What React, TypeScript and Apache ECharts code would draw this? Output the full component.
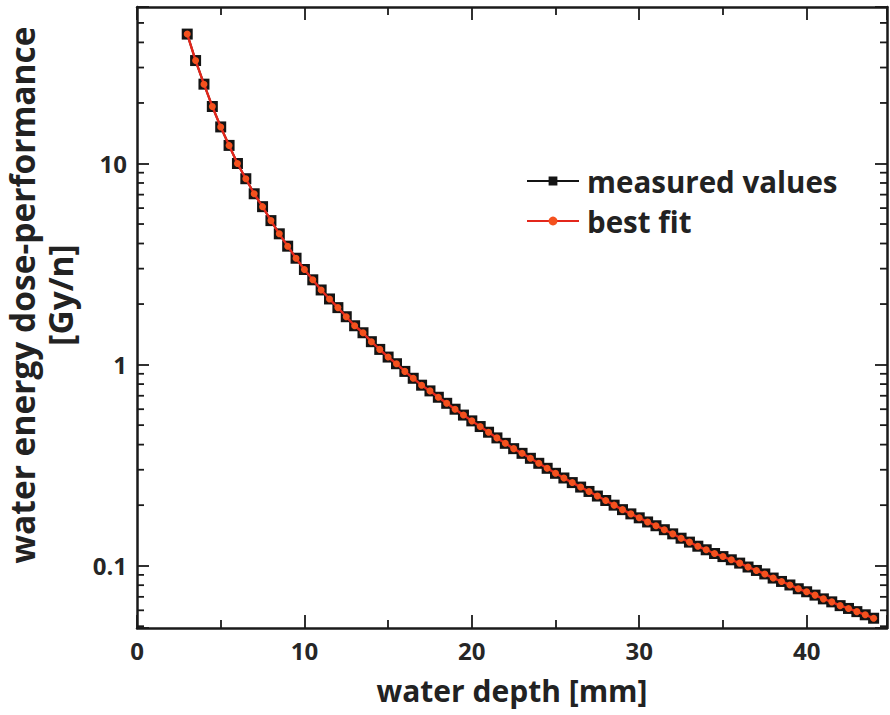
import React, { useEffect, useRef } from "react";
import * as echarts from "echarts";

const depthMm = [
  3.0, 3.5, 4.0, 4.5, 5.0, 5.5, 6.0, 6.5, 7.0, 7.5, 8.0, 8.5, 9.0, 9.5, 10.0, 10.5, 11.0, 11.5,
  12.0, 12.5, 13.0, 13.5, 14.0, 14.5, 15.0, 15.5, 16.0, 16.5, 17.0, 17.5, 18.0, 18.5, 19.0, 19.5,
  20.0, 20.5, 21.0, 21.5, 22.0, 22.5, 23.0, 23.5, 24.0, 24.5, 25.0, 25.5, 26.0, 26.5, 27.0, 27.5,
  28.0, 28.5, 29.0, 29.5, 30.0, 30.5, 31.0, 31.5, 32.0, 32.5, 33.0, 33.5, 34.0, 34.5, 35.0, 35.5,
  36.0, 36.5, 37.0, 37.5, 38.0, 38.5, 39.0, 39.5, 40.0, 40.5, 41.0, 41.5, 42.0, 42.5, 43.0, 43.5,
  44.0,
];

const measuredValues = [
  44.0, 32.5, 24.8, 19.2, 15.2, 12.3, 10.0, 8.4, 7.07, 6.1, 5.2, 4.47, 3.88, 3.38, 2.97, 2.64, 2.35, 2.12,
  1.92, 1.73, 1.56, 1.44, 1.3, 1.19, 1.09, 1.01, 0.925, 0.855, 0.79, 0.74, 0.688, 0.642, 0.6, 0.561,
  0.525, 0.492, 0.461, 0.432, 0.406, 0.382, 0.362, 0.342, 0.323, 0.305, 0.288, 0.273, 0.259, 0.246, 0.234, 0.222,
  0.211, 0.2, 0.19, 0.181, 0.173, 0.165, 0.158, 0.151, 0.144, 0.137, 0.131, 0.125, 0.12, 0.115, 0.111, 0.107,
  0.103, 0.0985, 0.0947, 0.091, 0.0868, 0.0835, 0.0802, 0.0768, 0.0742, 0.0714, 0.0684, 0.0661, 0.0633, 0.0613, 0.0591, 0.057,
  0.0548,
];

const bestFitValues = [
  44.0, 32.5, 24.8, 19.2, 15.2, 12.3, 10.0, 8.4, 7.07, 6.1, 5.2, 4.47, 3.88, 3.38, 2.97, 2.64, 2.35, 2.12,
  1.92, 1.73, 1.56, 1.44, 1.3, 1.19, 1.09, 1.01, 0.925, 0.855, 0.79, 0.74, 0.688, 0.642, 0.6, 0.561,
  0.525, 0.492, 0.461, 0.432, 0.406, 0.382, 0.362, 0.342, 0.323, 0.305, 0.288, 0.273, 0.259, 0.246, 0.234, 0.222,
  0.211, 0.2, 0.19, 0.181, 0.173, 0.165, 0.158, 0.151, 0.144, 0.137, 0.131, 0.125, 0.12, 0.115, 0.111, 0.107,
  0.103, 0.0985, 0.0947, 0.091, 0.0868, 0.0835, 0.0802, 0.0768, 0.0742, 0.0714, 0.0684, 0.0661, 0.0633, 0.0613, 0.0591, 0.057,
  0.0548,
];

const yMinorTicks = [
  0.05, 0.06, 0.07, 0.08, 0.09,
  0.2, 0.3, 0.4, 0.5, 0.6, 0.7, 0.8, 0.9,
  2, 3, 4, 5, 6, 7, 8, 9,
  20, 30, 40, 50,
];

const seriesNames = ["measured values", "best fit"];
const xTitle = "water depth [mm]";
const yTitle = "water energy dose-performance\n[Gy/n]";

const X_MIN = 0;
const X_MAX = 44.8;
const Y_MIN = 0.049;
const Y_MAX = 60;

const FONT = "'Open Sans', 'Noto Sans', sans-serif";
const AXIS_COLOR = "#1a1a1a";
const LABEL_COLOR = "#262626";

function logLabel(v: number): string {
  const l = Math.log10(v);
  const r = Math.round(l);
  if (Math.abs(l - r) > 1e-6) return "";
  return String(Number(Math.pow(10, r).toPrecision(1)));
}

export default function App() {
  const ref = useRef<HTMLDivElement>(null);

  useEffect(() => {
    if (!ref.current) return;
    const chart = echarts.init(ref.current, undefined, { renderer: "svg" });

    const baseX = {
      type: "value" as const,
      min: X_MIN,
      max: X_MAX,
      interval: 10,
      axisLine: { show: true, onZero: false, lineStyle: { color: AXIS_COLOR, width: 2.5 } },
      axisTick: { show: true, inside: true, length: 13, lineStyle: { color: AXIS_COLOR, width: 1.8 } },
      minorTick: { show: true, splitNumber: 2, length: 8, lineStyle: { color: AXIS_COLOR, width: 1.8 } },
      splitLine: { show: false },
    };
    const baseY = {
      type: "log" as const,
      logBase: 10,
      min: Y_MIN,
      max: Y_MAX,
      axisLine: { show: true, onZero: false, lineStyle: { color: AXIS_COLOR, width: 2.5 } },
      axisTick: { show: true, inside: true, length: 12, lineStyle: { color: AXIS_COLOR, width: 1.8 } },
      splitLine: { show: false },
    };

    chart.setOption({
      animation: false,
      backgroundColor: "#ffffff",
      grid: { left: 137, top: 7, right: 1, bottom: 87, containLabel: false },
      legend: {
        data: seriesNames,
        orient: "vertical",
        left: 521,
        top: 161,
        itemWidth: 52,
        itemHeight: 11,
        itemGap: 10,
        textStyle: {
          fontSize: 29.5,
          fontWeight: "bold",
          color: "#222",
          fontFamily: FONT,
          padding: [0, 0, 0, 3],
        },
      },
      xAxis: [
        {
          ...baseX,
          position: "bottom",
          axisLabel: {
            show: true,
            margin: 10,
            fontSize: 24,
            fontWeight: "bold",
            color: LABEL_COLOR,
            fontFamily: FONT,
            formatter: (v: number) => (Math.abs(v % 10) < 1e-6 ? String(v) : ""),
          },
          name: xTitle,
          nameLocation: "middle",
          nameGap: 47,
          nameTextStyle: { fontSize: 30, fontWeight: "bold", color: "#222", fontFamily: FONT },
        },
        {
          ...baseX,
          position: "top",
          axisLabel: { show: false },
        },
      ],
      yAxis: [
        {
          ...baseY,
          position: "left",
          axisLabel: {
            show: true,
            margin: 10,
            fontSize: 24,
            fontWeight: "bold",
            color: LABEL_COLOR,
            fontFamily: FONT,
            formatter: (v: number) => logLabel(v),
          },
        },
        {
          ...baseY,
          position: "right",
          axisLabel: { show: false },
        },
      ],
      graphic: [
        {
          type: "text",
          x: 41,
          y: 295,
          rotation: Math.PI / 2,
          style: {
            text: yTitle,
            align: "center",
            verticalAlign: "middle",
            fontSize: 33.5,
            fontWeight: "bold",
            lineHeight: 38,
            fill: "#222",
            fontFamily: FONT,
          },
        },
      ],
      series: [
        {
          name: seriesNames[0],
          type: "line",
          xAxisIndex: 0,
          yAxisIndex: 0,
          data: depthMm.map((x, i) => [x, measuredValues[i]]),
          symbol: "rect",
          symbolSize: 11,
          showSymbol: true,
          itemStyle: { color: "#141414" },
          lineStyle: { color: "#141414", width: 2 },
          z: 2,
        },
        {
          name: seriesNames[1],
          type: "line",
          xAxisIndex: 0,
          yAxisIndex: 0,
          data: depthMm.map((x, i) => [x, bestFitValues[i]]),
          symbol: "circle",
          symbolSize: 7,
          showSymbol: true,
          itemStyle: { color: "#f4511e" },
          lineStyle: { color: "#e3261b", width: 2.4 },
          z: 3,
        },
        {
          type: "custom",
          xAxisIndex: 0,
          yAxisIndex: 0,
          silent: true,
          clip: false,
          data: yMinorTicks.map((v) => [X_MIN, v]),
          renderItem: (params: any, api: any) => {
            const v = api.value(1);
            const pl = api.coord([X_MIN, v]);
            const pr = api.coord([X_MAX, v]);
            const s = { stroke: AXIS_COLOR, lineWidth: 1.8 };
            return {
              type: "group",
              children: [
                { type: "line", shape: { x1: pl[0], y1: pl[1], x2: pl[0] + 7, y2: pl[1] }, style: s },
                { type: "line", shape: { x1: pr[0], y1: pr[1], x2: pr[0] - 7, y2: pr[1] }, style: s },
              ],
            };
          },
          z: 1,
        },
      ],
    });

    return () => chart.dispose();
  }, []);

  return (
    <div
      ref={ref}
      style={{ position: "fixed", left: 0, top: 0, width: 890, height: 715, background: "#fff" }}
    />
  );
}
